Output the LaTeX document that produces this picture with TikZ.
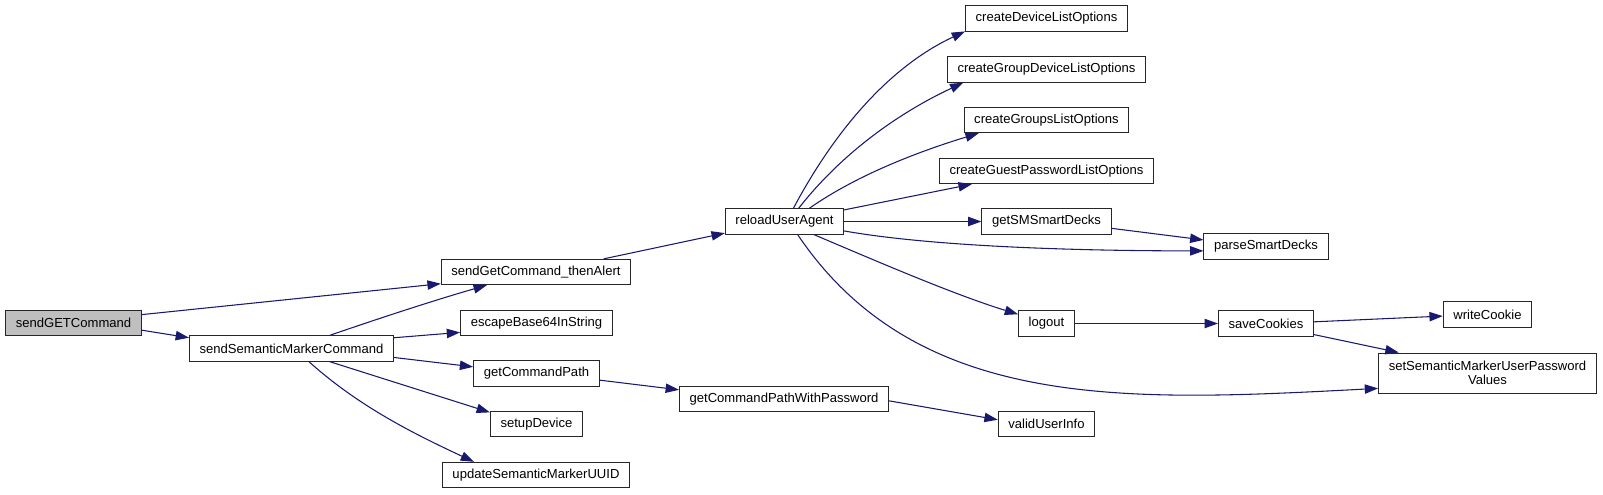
\documentclass[tikz,border=0pt]{standalone}
\usepackage{fontspec}
\setmainfont{Liberation Sans}
\usetikzlibrary{arrows.meta}
\definecolor{callblue}{HTML}{191970}
\definecolor{rootgray}{HTML}{BFBFBF}
\begin{document}
\begin{tikzpicture}[x=0.75bp,y=-0.75bp,font=\fontsize{9.8bp}{10.8bp}\selectfont,
  fn/.style={draw=black!85,line width=0.75bp,inner xsep=7.6bp,inner ysep=0bp,minimum height=19bp,align=center},
  call/.style={draw=callblue,line width=0.8bp,-{Triangle[length=10bp,width=7bp,fill=callblue]}}]
  \useasboundingbox (0,0) rectangle (1603,494);
  \node[fn,fill=rootgray] (getcmd) at (73.5,323) {sendGETCommand};
  \node[fn] (semcmd) at (291.5,348.5) {sendSemanticMarkerCommand};
  \node[fn] (alert) at (536,272) {sendGetCommand\_thenAlert};
  \node[fn] (escape) at (536.5,323) {escapeBase64InString};
  \node[fn] (cmdpath) at (536.5,373.5) {getCommandPath};
  \node[fn] (setup) at (536.5,424) {setupDevice};
  \node[fn] (uuid) at (536,475) {updateSemanticMarkerUUID};
  \node[fn] (reload) at (784.5,221.5) {reloadUserAgent};
  \node[fn] (cmdpathpw) at (784,399) {getCommandPathWithPassword};
  \node[fn] (devlist) at (1046.5,18.5) {createDeviceListOptions};
  \node[fn] (grpdevlist) at (1046.5,69.5) {createGroupDeviceListOptions};
  \node[fn] (grplist) at (1046.5,120) {createGroupsListOptions};
  \node[fn] (guestlist) at (1046.5,171) {createGuestPasswordListOptions};
  \node[fn] (decks) at (1046.5,221.5) {getSMSmartDecks};
  \node[fn] (logout) at (1046.5,323.5) {logout};
  \node[fn] (valid) at (1046.5,424) {validUserInfo};
  \node[fn] (parse) at (1266,246.5) {parseSmartDecks};
  \node[fn] (cookies) at (1266,323.5) {saveCookies};
  \node[fn] (write) at (1487.5,314.5) {writeCookie};
  \node[fn,minimum height=30bp] (passwd) at (1487.5,373) {setSemanticMarkerUserPassword\\Values};
  \foreach \caller/\callee in {getcmd.7/alert.187, getcmd.354/semcmd.174, semcmd.6/escape.187,
      semcmd.355/cmdpath.174, semcmd.341/setup.166, alert.11/reload.191, cmdpath.354/cmdpathpw.175,
      cmdpathpw.359/valid.175, reload.11/guestlist.190, reload.east/decks.west, decks.354/parse.174,
      logout.east/cookies.west, cookies.2/write.182, cookies.347/passwd.167}
    \draw[call] (\caller) -- (\callee);
  \draw[call] (semcmd.19) .. controls +(19:40bp) and +(196:40bp) .. (alert.195);
  \draw[call] (semcmd.323) .. controls +(-42:50bp) and +(155:50bp) .. (uuid.168);
  \draw[call] (reload.56) .. controls +(62:70bp) and +(205:60bp) .. (devlist.189);
  \draw[call] (reload.43) .. controls +(52:55bp) and +(205:50bp) .. (grpdevlist.189);
  \draw[call] (reload.28) .. controls +(35:45bp) and +(197:45bp) .. (grplist.191);
  \draw[call] (reload.351) .. controls +(-10:75bp) and +(180:75bp) .. (parse.184);
  \draw[call] (reload.336) .. controls +(-23:50bp) and +(163:50bp) .. (logout.162);
  \draw[call] (reload.315) .. controls +(-56:161bp) and +(183:187bp) .. (passwd.188);
\end{tikzpicture}
\end{document}
